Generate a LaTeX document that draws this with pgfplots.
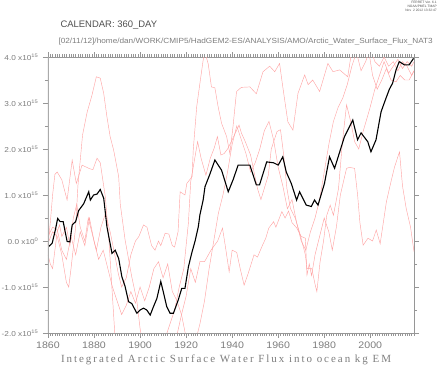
\documentclass[border=0pt]{standalone}
\usepackage{pgfplots}
\pgfplotsset{compat=1.18}
\usepackage{fontspec}
\setmainfont{Liberation Sans}
\newfontfamily\titlefont[LetterSpace=18]{Liberation Serif}
\definecolor{memb}{RGB}{255,165,165}
\definecolor{axgray}{RGB}{150,150,150}
\definecolor{txtgray}{RGB}{125,125,125}
\newcommand{\yl}[2]{\scalebox{1.15}[1]{#1 x10\textsuperscript{#2}}}
\begin{document}
\begin{tikzpicture}
\path[use as bounding box] (-48bp,-39bp) rectangle (390bp,333bp);
\begin{axis}[
  scale only axis, width=366bp, height=276bp,
  xmin=1860, xmax=2019, ymin=-2, ymax=4,
  xtick={1860,1880,...,2000},
  minor xtick={1861,...,2019},
  ytick={-2,-1,...,4},
  minor ytick={-1.5,-0.5,...,3.5},
  yticklabels={\yl{-2.0}{15},\yl{-1.0}{15},\yl{0.0}{0},\yl{1.0}{15},\yl{2.0}{15},\yl{3.0}{15},\yl{4.0}{15}},
  xticklabel={\scalebox{1.12}[1]{\pgfmathprintnumber[1000 sep={}]{\tick}}},
  xticklabel style={font=\fontsize{9.5}{10}\selectfont, text=txtgray},
  yticklabel style={font=\fontsize{7.2}{8}\selectfont, text=txtgray, xshift=-1bp},
  /pgf/number format/assume math mode=true,
  tick align=outside, tickpos=both,
  major tick length=5bp, minor tick length=3bp,
  tick style={axgray, line width=0.4pt},
  minor tick style={axgray, line width=0.4pt},
  axis line style={axgray, line width=0.6pt},
  clip=true,
]
% member A
\addplot[memb, line width=0.45pt] coordinates {
(1860,-0.05)(1862,0.2)(1864,0.1)(1866,-0.3)(1868,-0.9)(1869,-1.0)(1870,-0.6)(1872,0.3)(1873,1.2)(1875,2.3)(1877,2.8)(1879,3.15)(1881,3.57)(1882.7,3.54)(1884.2,3.21)(1885.6,2.7)(1887,2.27)(1888.5,1.98)(1890.7,1.4)(1891.4,0.8)(1893.5,0.02)(1896.4,-0.78)(1898.6,-1.3)(1900,-1.9)(1901,-2.2)(1904,-2.5)(1908,-2.4)(1911,-2.1)(1913,-1.8)(1915,-1.5)(1917,-1.0)(1919,-0.6)(1921,0.4)(1922,1.29)(1925,2.16)(1926.5,1.8)(1928.6,1.43)(1930.5,1.8)(1932.2,2.02)(1933.6,2.27)(1935.1,1.87)(1936.5,1.9)(1938,2.0)(1940,2.2)(1943,2.52)(1944,2.35)(1945.7,2.16)(1948,1.87)(1951,1.14)(1952.5,0.9)(1955.7,1.43)(1957,2.0)(1959.5,2.38)(1961,2.42)(1962.4,1.87)(1963.8,1.14)(1965.3,0.71)(1967.4,0.5)(1969.6,0.13)(1971.8,-0.3)(1972.5,-0.6)(1974.6,-0.6)(1976.1,-0.96)(1976.8,-1.1)(1978.2,-0.45)(1979.7,0.0)(1981.1,0.56)(1982.6,0.78)(1984,0.56)(1986.2,1.14)(1988,2.2)(1989.7,2.96)(1991.5,2.6)(1993.2,2.16)(1995,2.0)(1997,2.4)(1999.8,2.88)(2002,3.3)(2004,3.6)(2006,3.9)(2008,3.65)(2010,3.8)(2012,3.95)(2014,3.75)(2016,3.9)(2018,3.8)(2019,3.9)
};
% member B
\addplot[memb, line width=0.45pt] coordinates {
(1860,-0.1)(1861,0.4)(1862,1.0)(1863,1.45)(1864,1.5)(1866,1.33)(1868.3,0.89)(1870.5,1.76)(1872.3,1.25)(1874.8,1.65)(1877.7,1.58)(1879.5,1.55)(1881.3,1.8)(1882.7,1.7)(1884.9,0.96)(1886.5,0.0)(1888,-1.2)(1889,-2.0)(1890,-2.4)(1894,-2.8)(1900,-3.0)(1906,-2.9)(1910,-2.6)(1914,-2.3)(1916,-2.05)(1918,-1.6)(1920,-1.2)(1922,-0.6)(1924,-0.9)(1926,-0.45)(1928,-0.45)(1930.8,-0.2)(1933.7,0.0)(1935.8,0.28)(1937,-0.1)(1938.7,-0.67)(1940,-0.2)(1942,-0.25)(1943.5,-0.6)(1945.2,-0.96)(1947,-0.7)(1949.5,-0.3)(1951,-0.35)(1953.2,-0.09)(1954.6,0.06)(1955.9,0.28)(1958,0.42)(1959,0.3)(1961.6,0.64)(1963,0.5)(1964.5,0.65)(1966,0.4)(1968.1,0.28)(1970,0.1)(1971.8,0.06)(1972.5,-0.74)(1973.5,-0.5)(1974.5,-0.75)(1976,-0.3)(1978,0.1)(1980,0.5)(1982,0.2)(1983.5,-0.2)(1985.3,0.31)(1987,1.0)(1989.7,1.58)(1991,1.6)(1993.2,1.58)(1994.5,1.0)(1995.5,0.4)(1996.9,-0.09)(1999,0.06)(2001,0.0)(2002.6,0.24)(2004.3,-0.06)(2007,0.85)(2009,1.29)(2010.5,1.6)(2012.7,1.94)(2014,1.2)(2015.6,0.71)(2017.5,0.3)(2019,-0.23)
};
% member C
\addplot[memb, line width=0.45pt] coordinates {
(1860,-0.3)(1861,-0.5)(1862,-0.6)(1863,-0.2)(1864,0.2)(1865,0.35)(1866,0.1)(1868,0.3)(1869.5,-0.1)(1871,0.5)(1872.5,0.8)(1874,0.3)(1876,0.0)(1877.5,0.5)(1879,0.2)(1881,-0.2)(1883,0.3)(1885,0.6)(1887,0.2)(1889,-0.3)(1890.5,-0.7)(1892,-1.0)(1894,-0.8)(1896,-0.3)(1898,0.0)(1899.5,0.1)(1901.5,0.35)(1903,0.3)(1905,-0.1)(1906.5,-0.2)(1908,0.0)(1909,-0.1)(1910.9,0.17)(1912.5,0.15)(1914,-0.1)(1915,-0.13)(1916.5,0.2)(1917.4,1.07)(1919.5,1.0)(1920.3,1.25)(1922.6,1.4)(1923.1,1.98)(1924.6,2.92)(1926,3.43)(1927.4,3.93)(1928.2,4.1)(1929.6,3.85)(1931,3.35)(1932.5,3.33)(1933.9,2.92)(1935.4,2.56)(1937.6,2.27)(1939,1.9)(1940.4,2.5)(1941.9,3.25)(1944,3.34)(1947.7,3.35)(1950.5,3.2)(1953.4,3.68)(1956.3,3.8)(1958.5,3.68)(1960.6,3.86)(1962,3.35)(1964.2,2.59)(1966.4,2.41)(1968.6,3.21)(1971.5,3.61)(1973,3.4)(1975,3.5)(1978,3.25)(1981.6,3.86)(1983.8,3.68)(1986.7,3.72)(1990.2,3.57)(1991.7,4.05)(1994,4.3)(1997,4.2)(1999.6,4.05)(2001,3.6)(2003,3.3)(2005,3.5)(2007,3.75)(2009,3.5)(2011.2,3.46)(2013,3.6)(2015,3.5)(2016.9,3.5)(2019,3.7)
};
% member D
\addplot[memb, line width=0.45pt] coordinates {
(1860,0.1)(1862,0.3)(1864,0.25)(1866,-0.2)(1868,-0.4)(1870,0.1)(1872,-0.3)(1874,0.2)(1876,-0.1)(1878,0.5)(1880,0.0)(1882,-0.4)(1884,-0.2)(1886,-0.6)(1888,-1.0)(1890,-1.3)(1892,-1.6)(1894,-1.4)(1896,-1.1)(1898,-1.35)(1900,-1.0)(1902,-1.3)(1904,-1.0)(1906,-0.6)(1908,-0.45)(1910,-0.8)(1912,-0.5)(1914,-1.1)(1916,-1.3)(1918,-1.6)(1920,-2.1)(1922,-2.4)(1924,-2.2)(1926,-1.8)(1928,-1.3)(1930,-0.6)(1932,0.0)(1934,0.6)(1936,1.0)(1938,1.5)(1940,2.1)(1942,2.5)(1944,2.2)(1946,1.9)(1948,1.5)(1950,1.7)(1952,2.0)(1954,2.4)(1956,2.6)(1958,2.2)(1960,1.6)(1962,1.2)(1964,0.7)(1966,0.9)(1968,0.4)(1970,0.0)(1972,-0.2)(1974,0.2)(1976,0.5)(1978,0.9)(1980,1.5)(1982,2.1)(1984,2.6)(1986,2.9)(1988,3.1)(1990,3.4)(1992,3.8)(1994,4.1)(1996,3.7)(1998,3.9)(2000,4.2)(2002,3.9)(2004,3.8)(2006,4.0)(2008,3.8)(2010,3.9)(2012,3.7)(2014,3.9)(2016,3.8)(2018,3.6)(2019,3.7)
};
% ensemble mean
\addplot[black, line width=1.1pt] coordinates {
(1860.3,-0.12)(1861.8,-0.05)(1863.2,0.24)(1864.2,0.49)(1865.3,0.42)(1866.6,0.42)(1868.3,-0.01)(1869.5,-0.02)(1870.5,0.35)(1872,0.42)(1873.3,0.66)(1875.5,0.81)(1877.7,1.07)(1878.4,0.89)(1879.8,1.0)(1881.3,1.02)(1882.7,1.12)(1884.2,0.93)(1885.6,0.31)(1887.8,-0.27)(1889.2,-0.2)(1890.7,-0.38)(1892.1,-0.78)(1893.5,-0.99)(1895,-1.32)(1896.4,-1.36)(1898.6,-1.57)(1900,-1.5)(1901.5,-1.46)(1902.9,-1.5)(1904.4,-1.61)(1905.8,-1.43)(1907.3,-1.25)(1909,-0.88)(1910.2,-1.13)(1911.6,-1.43)(1913,-1.57)(1914.5,-1.57)(1916.6,-1.28)(1918.1,-1.03)(1919.5,-1.03)(1921,-0.56)(1922.4,-0.27)(1923.9,0.0)(1925.3,0.31)(1926,0.57)(1927.4,0.89)(1928.2,1.18)(1930.3,1.45)(1932.5,1.76)(1935.4,1.54)(1938.3,1.07)(1940.4,1.33)(1942.6,1.65)(1947.7,1.65)(1950.5,1.22)(1951.9,1.22)(1955,1.72)(1958,1.7)(1960,1.65)(1962,1.83)(1963.5,1.5)(1965.7,1.25)(1968,0.89)(1969.3,1.07)(1972.2,0.78)(1974.4,0.75)(1975.8,0.89)(1977.3,0.78)(1980.1,1.25)(1982.3,1.83)(1984.5,1.58)(1988.8,2.27)(1992.4,2.63)(1994.5,2.2)(1996,2.35)(1998.9,2.16)(2000.3,1.94)(2002.5,2.2)(2004.7,2.81)(2006.8,3.1)(2008.3,3.3)(2009.7,3.43)(2011.2,3.72)(2012.6,3.9)(2014.8,3.83)(2016.9,3.83)(2018.8,3.97)
};
\draw[color={rgb,255:red,170;green,170;blue,170}, line width=1.4pt] (rel axis cs:0,0) -- (rel axis cs:0,1);
\end{axis}
\node[anchor=west, font=\fontsize{9.5}{10}\selectfont, text={rgb,255:red,80;green,80;blue,80}] at (9bp,308bp) {CALENDAR: 360\_DAY};
\node[anchor=east, inner sep=0pt, font=\fontsize{7.5}{9}\selectfont, text=txtgray] at (385bp,291bp) {\scalebox{1.10}[1]{[02/11/12]/home/dan/WORK/CMIP5/HadGEM2-ES/ANALYSIS/AMO/Arctic\_Water\_Surface\_Flux\_NAT3}};
\node[anchor=north east, align=right, font=\fontsize{3.3}{4}\selectfont, text={rgb,255:red,80;green,80;blue,80}, inner sep=0pt] at (389bp,332bp) {FERRET Ver. 6.1\\NOAA/PMEL TMAP\\Nov\ \ 2 2012 13:32:47};
\node[anchor=center, font=\titlefont\fontsize{11}{12}\selectfont, text=txtgray] at (178bp,-27bp) {Integrated Arctic Surface Water Flux into ocean kg EM};
\end{tikzpicture}
\end{document}
